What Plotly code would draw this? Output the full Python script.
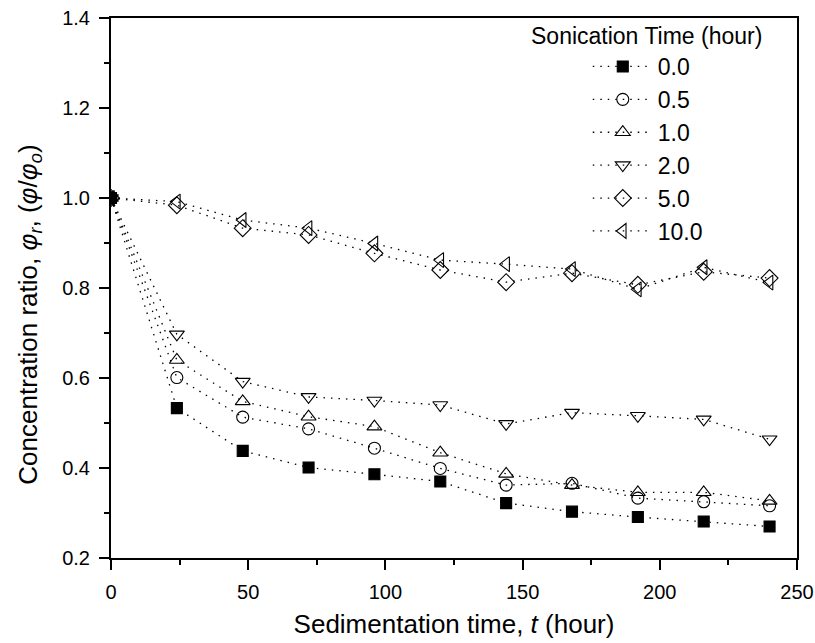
import plotly.graph_objects as go

time_h = [0, 24, 48, 72, 96, 120, 144, 168, 192, 216, 240]

s_00 = [1.0, 0.533, 0.438, 0.401, 0.386, 0.370, 0.322, 0.303, 0.291, 0.281, 0.270]
s_05 = [1.0, 0.601, 0.513, 0.487, 0.444, 0.399, 0.362, 0.366, 0.333, 0.325, 0.316]
s_10 = [1.0, 0.640, 0.548, 0.514, 0.492, 0.434, 0.387, 0.362, 0.346, 0.346, 0.327]
s_20 = [1.0, 0.697, 0.592, 0.558, 0.550, 0.540, 0.498, 0.523, 0.516, 0.508, 0.464]
s_50 = [1.0, 0.984, 0.933, 0.918, 0.877, 0.840, 0.813, 0.833, 0.807, 0.836, 0.822]
s_100 = [1.0, 0.992, 0.951, 0.933, 0.899, 0.862, 0.853, 0.842, 0.797, 0.846, 0.812]

labels = ["0.0", "0.5", "1.0", "2.0", "5.0", "10.0"]
series = [s_00, s_05, s_10, s_20, s_50, s_100]
symbols = ["square", "circle-open", "triangle-up-open", "triangle-down-open",
           "diamond-open", "triangle-left-open"]
sizes = [11, 12, 13, 13, 13, 13]

legend_title = "Sonication Time (hour)"
x_title = "Sedimentation time, <i>t</i> (hour)"
y_title = "Concentration ratio, <i>φ<sub>r</sub></i>, (<i>φ</i>/<i>φ<sub>o</sub></i>)"

FONT = "Arial, Liberation Sans, sans-serif"

fig = go.Figure()
for lab, ys, sym, sz in zip(labels, series, symbols, sizes):
    fig.add_trace(go.Scatter(
        x=time_h, y=ys, name=lab, mode="lines+markers",
        line=dict(color="black", width=1.3, dash="1.5px,6px"),
        marker=dict(symbol=sym, size=sz, color="black",
                    line=dict(color="black", width=1.1)),
    ))

axis_common = dict(
    showline=True, linecolor="black", linewidth=2, mirror=True,
    ticks="outside", ticklen=10, tickwidth=2, tickcolor="black",
    showgrid=False, zeroline=False, automargin=False,
    tickfont=dict(family=FONT, size=20, color="black"),
)

fig.update_xaxes(
    range=[0, 250], tickvals=[0, 50, 100, 150, 200, 250],
    minor=dict(ticks="outside", ticklen=5, tickwidth=2, tickcolor="black", dtick=25),
    ticklabelstandoff=5,
    title=dict(text=x_title, font=dict(family=FONT, size=26, color="black"), standoff=13),
    **axis_common,
)
fig.update_yaxes(
    range=[0.2, 1.4], tickvals=[0.2, 0.4, 0.6, 0.8, 1.0, 1.2, 1.4],
    tickformat=".1f",
    minor=dict(ticks="outside", ticklen=5, tickwidth=2, tickcolor="black", dtick=0.1),
    ticklabelstandoff=5,
    **axis_common,
)

# y-axis title (rotated annotation)
fig.add_annotation(
    text=y_title, xref="paper", yref="paper", x=-0.12, y=0.45,
    xanchor="center", yanchor="middle", showarrow=False, textangle=-90,
    font=dict(family=FONT, size=26, color="black"),
)

fig.add_annotation(
    text=legend_title, xref="paper", yref="paper", x=0.781, y=0.966,
    xanchor="center", yanchor="middle", showarrow=False,
    font=dict(family=FONT, size=23, color="black"),
)

fig.update_layout(
    width=815, height=643,
    margin=dict(l=111, r=18, t=18, b=85, autoexpand=False),
    paper_bgcolor="white", plot_bgcolor="white",
    showlegend=True,
    legend=dict(
        x=0.695, y=0.95, xanchor="left", yanchor="top",
        bgcolor="rgba(0,0,0,0)",
        font=dict(family=FONT, size=23, color="black"),
        itemwidth=60,
    ),
)

fig.write_html(
    "out.html",
    config={"displayModeBar": False},
    post_script="document.body.style.margin='0px';document.body.style.overflow='hidden';",
)
